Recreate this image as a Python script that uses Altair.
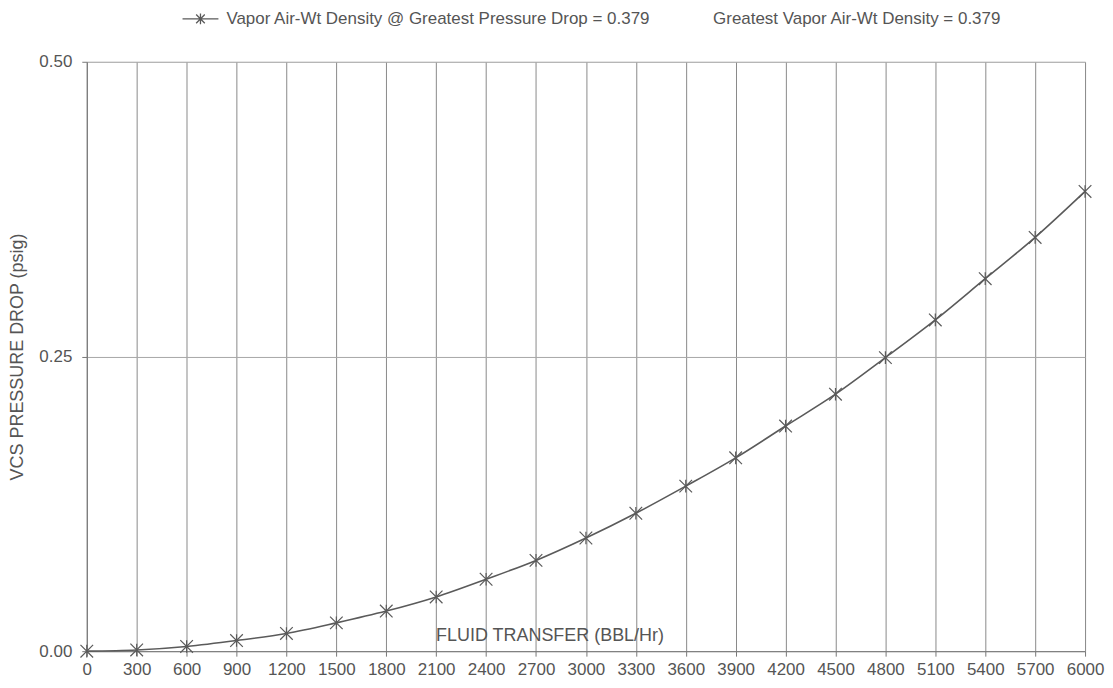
import altair as alt
import pandas as pd

# Data
flow = [0, 300, 600, 900, 1200, 1500, 1800, 2100, 2400, 2700, 3000,
        3300, 3600, 3900, 4200, 4500, 4800, 5100, 5400, 5700, 6000]
drop = [0.000, 0.001, 0.004, 0.009, 0.015, 0.024, 0.034, 0.046, 0.061, 0.077, 0.096,
        0.117, 0.140, 0.164, 0.191, 0.218, 0.249, 0.281, 0.316, 0.351, 0.390]
series_name = "Vapor Air-Wt Density @ Greatest Pressure Drop = 0.379"
note_text = "Greatest Vapor Air-Wt Density = 0.379"
x_ticks = list(range(0, 6001, 300))
y_ticks = [0.0, 0.25, 0.5]

df = pd.DataFrame({"flow": flow, "drop": drop, "series": [series_name] * len(flow)})

FONT = "Liberation Sans"
TXT = "#555555"
STAR = "M-1,-1L1,1M-1,1L1,-1M0,-1L0,1"
LEG = "M-1,0L1,0M-0.24,-0.24L0.24,0.24M-0.24,0.24L0.24,-0.24M0,-0.3L0,0.3"

x_enc = alt.X(
    "flow:Q",
    scale=alt.Scale(domain=[0, 6000], nice=False, zero=False),
    axis=alt.Axis(
        values=x_ticks, format="d", title="FLUID TRANSFER (BBL/Hr)",
        labelOverlap=False, labelBound=False, labelFlush=False,
        grid=True, gridColor="#8a8a8a", gridWidth=1,
        domainColor="#777777", tickColor="#777777", tickSize=5,
        labelFont=FONT, labelFontSize=17, labelColor=TXT, labelPadding=5,
        titleFont=FONT, titleFontSize=18, titleFontWeight="normal", titleColor=TXT,
        titleX=464, titleY=-16, titleBaseline="middle", titleAnchor="start", titleAlign="center",
    ),
)
y_enc = alt.Y(
    "drop:Q",
    scale=alt.Scale(domain=[0, 0.5], nice=False),
    axis=alt.Axis(
        values=y_ticks, format=".2f", title="VCS PRESSURE DROP (psig)",
        labelOverlap=False,
        grid=True, gridColor="#a8a8a8", gridWidth=1,
        domainColor="#777777", tickColor="#777777", tickSize=5,
        labelFont=FONT, labelFontSize=17, labelColor=TXT, labelPadding=10,
        titleFont=FONT, titleFontSize=18, titleFontWeight="normal", titleColor=TXT,
        titlePadding=12,
    ),
)

line = alt.Chart(df).mark_line(interpolate="monotone", strokeWidth=1.6).encode(
    x=x_enc,
    y=y_enc,
    color=alt.Color(
        "series:N",
        scale=alt.Scale(range=["#5a5a5a"]),
        legend=alt.Legend(
            title=None, orient="none", legendX=95, legendY=-62,
            symbolType=LEG, symbolSize=1296, symbolStrokeWidth=1.3,
            symbolStrokeColor="#5a5a5a", symbolFillColor="transparent",
            labelFont=FONT, labelFontSize=17, labelColor=TXT, labelLimit=700,
            labelOffset=7,
        ),
    ),
)

points = alt.Chart(df).mark_point(
    shape=STAR, size=160, filled=False, color="#5a5a5a", strokeWidth=1.2, opacity=1
).encode(x="flow:Q", y="drop:Q")

chart = (
    alt.layer(line, points)
    .properties(
        width=1001,
        height=591,
        autosize=alt.AutoSizeParams(type="none"),
        padding={"left": 79, "top": 53, "right": 20, "bottom": 27},
        title=alt.TitleParams(
            text=note_text, anchor="start", dx=628, offset=-28, frame="group",
            font=FONT, fontSize=17, fontWeight="normal", color=TXT,
        ),
    )
    .configure_view(stroke=None)
    .configure(background="white")
)

chart.save("out.html", embed_options={"renderer": "svg", "actions": False})
